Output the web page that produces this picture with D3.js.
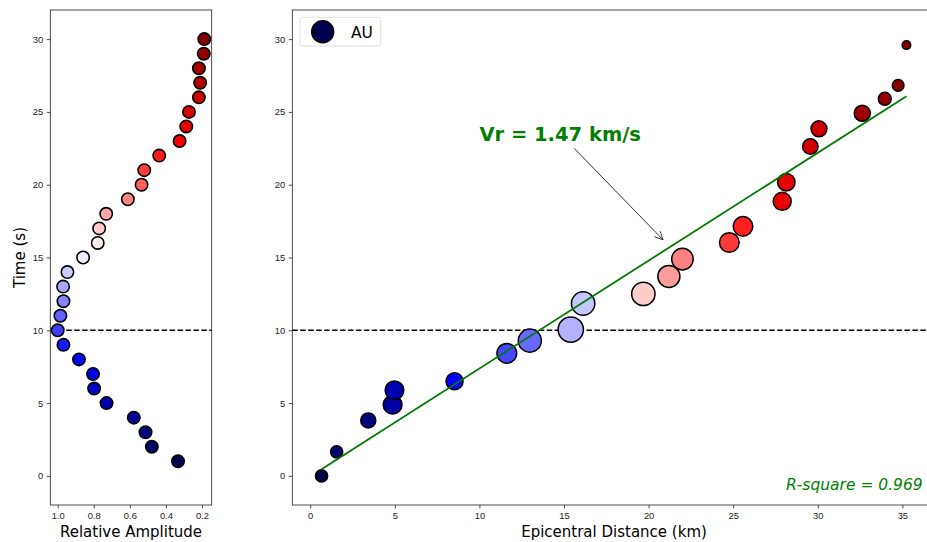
<!DOCTYPE html>
<html>
<head>
<meta charset="utf-8">
<script src="https://cdn.jsdelivr.net/npm/d3@7"></script>
<style>
  body { margin: 0; background: #fff; }
  svg { display: block; font-family: "DejaVu Sans", sans-serif; }
  .tick text { font-size: 9.4px; fill: #222; }
  .tick line { stroke: #222; stroke-width: 0.8; }
</style>
</head>
<body>
<svg width="927" height="542"></svg>
<script>
// left panel: relative amplitude for each time window (s)
const leftTime = [1, 2, 3, 4, 5, 6, 7, 8, 9, 10, 11, 12, 13, 14, 15,
                  16, 17, 18, 19, 20, 21, 22, 23, 24, 25, 26, 27, 28, 29, 30];
const leftAmp = [0.333, 0.478, 0.513, 0.578, 0.729, 0.798, 0.804, 0.882, 0.968, 1.0,
                 0.985, 0.968, 0.97, 0.946, 0.859, 0.778, 0.77, 0.731, 0.611, 0.535,
                 0.52, 0.437, 0.324, 0.287, 0.272, 0.217, 0.21, 0.217, 0.19, 0.187];

// right panel: epicentral distance (km), time (s), amplitude, colour tone (time scale)
const rightDist = [0.67, 1.56, 3.43, 4.87, 4.98, 8.53, 11.62, 12.98, 15.4, 16.13, 19.69, 21.2,
                   22.0, 24.77, 25.58, 27.9, 28.14, 29.56, 30.07, 32.63, 33.96, 34.75, 35.24];
const rightTime = [0.0, 1.65, 3.81, 4.89, 5.88, 6.5, 8.42, 9.29, 10.05, 11.84, 12.5, 13.7,
                   14.89, 16.03, 17.14, 18.86, 20.17, 22.62, 23.84, 24.91, 25.9, 26.82, 29.59];
const rightAmp = [0.26, 0.26, 0.38, 0.57, 0.57, 0.48, 0.63, 0.84, 1.0, 0.86, 0.86, 0.77,
                  0.74, 0.62, 0.62, 0.53, 0.5, 0.4, 0.42, 0.43, 0.29, 0.24, 0.14];
const rightTone = [1, 2.4, 3, 4.6, 5, 7.8, 10.25, 11.2, 13.3, 13.9, 16.95, 18.3,
                   19.1, 21.1, 21.85, 24, 24.2, 25.4, 25.7, 28.1, 29, 29.5, 30];

const fitSlope = 0.7411, fitIntercept = -0.037;
const velocityLabel = "Vr = 1.47 km/s";
const rsqLabel = "R-square = 0.969";
const xTicksLeft = [1.0, 0.8, 0.6, 0.4, 0.2];
const xTicksRight = [0, 5, 10, 15, 20, 25, 30, 35];
const yTicks = [0, 5, 10, 15, 20, 25, 30];

const svg = d3.select("svg");

// seismic colormap
const seismic = d3.scaleLinear()
  .domain([0, 0.25, 0.5, 0.75, 1])
  .range(["#00004d", "#0000ff", "#ffffff", "#ff0000", "#800000"]);
const toneColor = t => seismic((t - 1) / 29);

const yTop = 10, yBottom = 505;
const L = {x0: 50.3, x1: 211.7};
const R = {x0: 292.3, x1: 935.7};

const y = d3.scaleLinear().domain([-2, 32]).range([yBottom, yTop]);
const xL = d3.scaleLinear().domain([1.041, 0.146]).range([L.x0, L.x1]);
const xR = d3.scaleLinear().domain([-1.06, 36.97]).range([R.x0, R.x1]);
const rR = d3.scaleSqrt().domain([0, 1]).range([0, 13.4]);

function axes(g, x, xticks, fmt) {
  g.append("g")
    .attr("transform", `translate(0,${yBottom})`)
    .call(d3.axisBottom(x).tickValues(xticks).tickFormat(fmt)
      .tickSize(3.5).tickPadding(3.5).tickSizeOuter(0))
    .call(a => a.select(".domain").remove());
  g.append("g")
    .attr("transform", `translate(${x.range()[0]},0)`)
    .call(d3.axisLeft(y).tickValues(yTicks).tickFormat(d3.format("d"))
      .tickSize(3.5).tickPadding(3.5).tickSizeOuter(0))
    .call(a => a.select(".domain").remove());
}

function dashed(g, x) {
  g.append("line")
    .attr("x1", x.range()[0]).attr("x2", x.range()[1])
    .attr("y1", y(10)).attr("y2", y(10))
    .attr("stroke", "#000").attr("stroke-width", 1.5)
    .attr("stroke-dasharray", "5.55 2.4");
}

function frame(g, x) {
  g.append("rect")
    .attr("x", x.range()[0]).attr("y", yTop)
    .attr("width", x.range()[1] - x.range()[0]).attr("height", yBottom - yTop)
    .attr("fill", "none").attr("stroke", "#222").attr("stroke-width", 0.8);
}

// ---- left panel
const gl = svg.append("g");
dashed(gl, xL);
gl.selectAll("circle")
  .data(leftTime)
  .enter().append("circle")
  .attr("cx", (d, i) => xL(leftAmp[i]))
  .attr("cy", d => y(d))
  .attr("r", 6.2)
  .attr("fill", d => toneColor(d))
  .attr("stroke", "#000").attr("stroke-width", 1.6);
axes(gl, xL, xTicksLeft, d3.format(".1f"));
frame(gl, xL);

gl.append("text")
  .attr("x", (L.x0 + L.x1) / 2).attr("y", 537)
  .attr("text-anchor", "middle").attr("font-size", 15)
  .text("Relative Amplitude");
gl.append("text")
  .attr("transform", `translate(24.5,${(yTop + yBottom) / 2}) rotate(-90)`)
  .attr("text-anchor", "middle").attr("font-size", 15)
  .text("Time (s)");

// ---- right panel
const gr = svg.append("g");
dashed(gr, xR);
gr.selectAll("circle")
  .data(rightDist)
  .enter().append("circle")
  .attr("cx", d => xR(d))
  .attr("cy", (d, i) => y(rightTime[i]))
  .attr("r", (d, i) => rR(rightAmp[i]) - 0.75)
  .attr("fill", (d, i) => toneColor(rightTone[i]))
  .attr("stroke", "#000").attr("stroke-width", 1.5);

// regression line
const dMin = d3.min(rightDist), dMax = d3.max(rightDist);
gr.append("line")
  .attr("x1", xR(dMin)).attr("y1", y(fitIntercept + fitSlope * dMin))
  .attr("x2", xR(dMax)).attr("y2", y(fitIntercept + fitSlope * dMax))
  .attr("stroke", "#007a00").attr("stroke-width", 1.8);

axes(gr, xR, xTicksRight, d3.format("d"));
frame(gr, xR);

// annotation
const ax1 = xR(15.6), ay1 = y(22.5), ax2 = xR(20.85), ay2 = y(16.22);
gr.append("line")
  .attr("x1", ax1).attr("y1", ay1).attr("x2", ax2).attr("y2", ay2)
  .attr("stroke", "#000").attr("stroke-width", 0.8);
const ang = Math.atan2(ay2 - ay1, ax2 - ax1);
const hl = 8, hw = 4;
const head = [
  [ax2 - hl * Math.cos(ang) + hw * Math.sin(ang), ay2 - hl * Math.sin(ang) - hw * Math.cos(ang)],
  [ax2, ay2],
  [ax2 - hl * Math.cos(ang) - hw * Math.sin(ang), ay2 - hl * Math.sin(ang) + hw * Math.cos(ang)]
];
gr.append("path")
  .attr("d", d3.line()(head))
  .attr("fill", "none").attr("stroke", "#000").attr("stroke-width", 0.8);

gr.append("text")
  .attr("x", xR(10)).attr("y", y(23))
  .attr("font-size", 19.5).attr("font-weight", "bold").attr("fill", "#008000")
  .text(velocityLabel);

gr.append("text")
  .attr("x", 922.7).attr("y", 490)
  .attr("text-anchor", "end").attr("font-size", 15.5)
  .attr("font-style", "italic").attr("fill", "#008000")
  .text(rsqLabel);

gr.append("text")
  .attr("x", (R.x0 + R.x1) / 2).attr("y", 537)
  .attr("text-anchor", "middle").attr("font-size", 15)
  .text("Epicentral Distance (km)");

// legend
const lg = gr.append("g");
lg.append("rect")
  .attr("x", 300).attr("y", 17.3).attr("width", 80.7).attr("height", 28.7)
  .attr("rx", 3).attr("fill", "#fff").attr("fill-opacity", 0.8)
  .attr("stroke", "#d5d5d5").attr("stroke-width", 0.8);
lg.append("circle")
  .attr("cx", 322.7).attr("cy", 31.7).attr("r", 11)
  .attr("fill", toneColor(1)).attr("stroke", "#000").attr("stroke-width", 1.5);
lg.append("text")
  .attr("x", 351).attr("y", 37.7).attr("font-size", 15.5)
  .text("AU");
</script>
</body>
</html>
